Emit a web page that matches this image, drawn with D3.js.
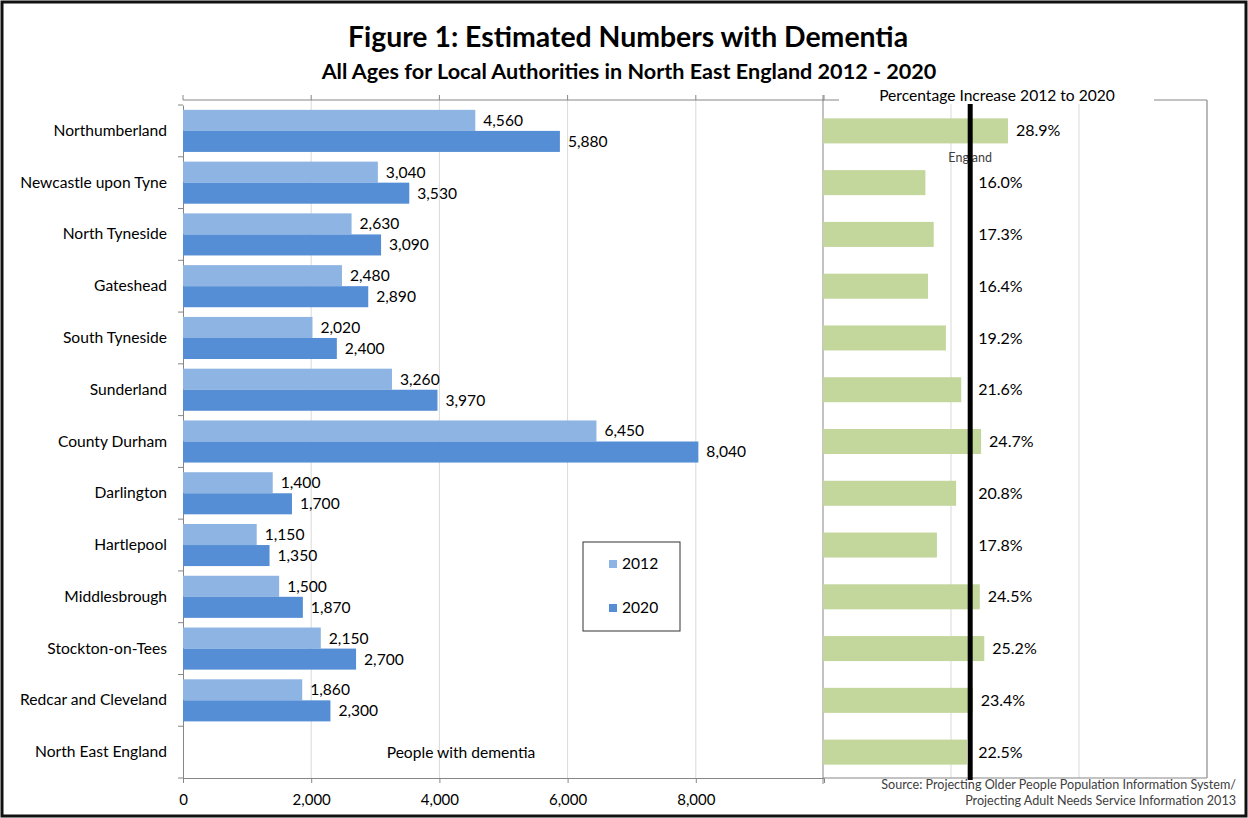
<!DOCTYPE html>
<html lang="en">
<head>
  <meta charset="UTF-8">
  <title>Estimated Numbers with Dementia</title>
  <script src="https://cdn.jsdelivr.net/npm/d3@7"></script>
  <style>
    html, body { margin: 0; padding: 0; background: #fff; }
    svg { display: block; font-family: Lato, "Open Sans", sans-serif; }
  </style>
</head>
<body>
  <svg id="chart" width="1248" height="818"></svg>
  <script>
    // data
    const areas = ['Northumberland', 'Newcastle upon Tyne', 'North Tyneside', 'Gateshead',
      'South Tyneside', 'Sunderland', 'County Durham', 'Darlington', 'Hartlepool',
      'Middlesbrough', 'Stockton-on-Tees', 'Redcar and Cleveland', 'North East England'];
    const years = ['2012', '2020'];
    const people2012 = [4560, 3040, 2630, 2480, 2020, 3260, 6450, 1400, 1150, 1500, 2150, 1860, null];
    const people2020 = [5880, 3530, 3090, 2890, 2400, 3970, 8040, 1700, 1350, 1870, 2700, 2300, null];
    const pctIncrease = [28.9, 16.0, 17.3, 16.4, 19.2, 21.6, 24.7, 20.8, 17.8, 24.5, 25.2, 23.4, 22.5];
    const englandPct = 23.0;
    const peopleTicks = [0, 2000, 4000, 6000, 8000];
    const pctGrid = [20, 40, 60];

    const colors = { '2012': '#8eb4e3', '2020': '#558ed5' };
    const green = '#c3d69b';
    const axisGrey = '#868686', gridGrey = '#d9d9d9';
    const fs = 15.6;

    const svg = d3.select('#chart');

    // outer frame
    svg.append('rect').attr('x', 2).attr('y', 2).attr('width', 1244).attr('height', 814)
      .attr('fill', '#fff').attr('stroke', '#111').attr('stroke-width', 3);

    svg.append('text').attr('x', 628).attr('y', 47).attr('text-anchor', 'middle')
      .attr('font-size', 28.4).attr('font-weight', 700).attr('fill', '#000')
      .text('Figure 1: Estimated Numbers with Dementia');
    svg.append('text').attr('x', 629).attr('y', 79).attr('text-anchor', 'middle')
      .attr('font-size', 21.6).attr('font-weight', 700).attr('fill', '#000')
      .text('All Ages for Local Authorities in North East England 2012 - 2020');

    const plotTop = 100, plotBottom = 778;
    const y = d3.scaleBand().domain(areas).range([105, 778]);
    const yInner = d3.scaleBand().domain(years).range([0, y.bandwidth()]).paddingOuter(0.23);
    const x = d3.scaleLinear().domain([0, 10000]).range([183, 824]);
    const xp = d3.scaleLinear().domain([0, 60]).range([823, 1207]);

    const rows = areas.map((a, i) => ({ area: a, v2012: people2012[i], v2020: people2020[i], pct: pctIncrease[i] }));

    // ---- left chart: numbers of people ----
    const left = svg.append('g');
    left.selectAll('line.grid').data(peopleTicks.slice(1)).join('line')
      .attr('x1', d => x(d)).attr('x2', d => x(d)).attr('y1', plotTop).attr('y2', plotBottom)
      .attr('stroke', gridGrey);

    // top axis line with ticks
    left.append('line').attr('x1', x(0)).attr('x2', x(10000)).attr('y1', plotTop).attr('y2', plotTop)
      .attr('stroke', axisGrey);
    left.selectAll('line.ttick').data(peopleTicks.concat([10000])).join('line')
      .attr('x1', d => x(d)).attr('x2', d => x(d)).attr('y1', plotTop - 5).attr('y2', plotTop)
      .attr('stroke', axisGrey);

    const xAxis = d3.axisBottom(x).tickValues(peopleTicks).tickSize(5).tickFormat(d3.format(','));
    const gx = left.append('g').attr('transform', `translate(0,${plotBottom})`).call(xAxis);
    gx.select('.domain').attr('stroke', axisGrey);
    gx.selectAll('.tick line').attr('stroke', axisGrey);
    gx.selectAll('.tick text').attr('font-size', 15).attr('fill', '#000').attr('dy', '1.25em')
      .attr('font-family', 'Lato, sans-serif');

    // category axis
    const yAxis = d3.axisLeft(y).tickSize(0).tickPadding(16);
    const gy = left.append('g').attr('transform', `translate(${x(0)},0)`).call(yAxis);
    gy.select('.domain').attr('stroke', axisGrey);
    gy.selectAll('.tick text').attr('font-size', fs).attr('fill', '#000')
      .attr('font-family', 'Lato, sans-serif');
    left.selectAll('line.btick').data(d3.range(areas.length + 1)).join('line')
      .attr('x1', x(0) - 5).attr('x2', x(0))
      .attr('y1', i => y.range()[0] + i * y.step()).attr('y2', i => y.range()[0] + i * y.step())
      .attr('stroke', axisGrey);

    const groups = left.selectAll('g.row').data(rows).join('g')
      .attr('transform', d => `translate(0,${y(d.area)})`);
    years.forEach(yr => {
      const key = 'v' + yr;
      const g = groups.filter(d => d[key] != null);
      g.append('rect').attr('x', x(0)).attr('y', yInner(yr))
        .attr('width', d => x(d[key]) - x(0)).attr('height', yInner.bandwidth())
        .attr('fill', colors[yr]);
      g.append('text').attr('x', d => x(d[key]) + 8).attr('y', yInner(yr) + yInner.bandwidth() / 2)
        .attr('dy', '0.35em').attr('font-size', fs).attr('fill', '#000')
        .text(d => d3.format(',')(d[key]));
    });

    left.append('text').attr('x', 461).attr('y', y('North East England') + y.bandwidth() / 2)
      .attr('dy', '0.35em').attr('text-anchor', 'middle').attr('font-size', fs)
      .text('People with dementia');

    // legend
    const lg = left.append('g').attr('transform', 'translate(583,542)');
    lg.append('rect').attr('width', 97).attr('height', 89).attr('fill', '#fff').attr('stroke', '#333');
    years.forEach((yr, i) => {
      lg.append('rect').attr('x', 26).attr('y', 18 + i * 44).attr('width', 8).attr('height', 8)
        .attr('fill', colors[yr]);
      lg.append('text').attr('x', 39).attr('y', 22 + i * 44).attr('dy', '0.35em')
        .attr('font-size', fs).text(yr);
    });

    // ---- right chart: percentage increase ----
    const right = svg.append('g');
    right.selectAll('line.grid').data(pctGrid).join('line')
      .attr('x1', d => xp(d)).attr('x2', d => xp(d)).attr('y1', plotTop).attr('y2', plotBottom)
      .attr('stroke', gridGrey);
    right.append('line').attr('x1', xp(0)).attr('x2', xp(60)).attr('y1', plotTop).attr('y2', plotTop)
      .attr('stroke', axisGrey);
    right.append('line').attr('x1', xp(60)).attr('x2', xp(60)).attr('y1', plotTop).attr('y2', plotBottom)
      .attr('stroke', axisGrey);
    right.append('line').attr('x1', xp(0)).attr('x2', xp(60)).attr('y1', plotBottom).attr('y2', plotBottom)
      .attr('stroke', axisGrey);
    right.append('line').attr('x1', xp(0)).attr('x2', xp(0)).attr('y1', plotTop - 5).attr('y2', plotBottom + 6)
      .attr('stroke', axisGrey);

    right.append('rect').attr('x', 839).attr('y', 84).attr('width', 315).attr('height', 20).attr('fill', '#fff');
    right.append('text').attr('x', 997).attr('y', 96).attr('dy', '0.35em').attr('text-anchor', 'middle')
      .attr('font-size', fs).text('Percentage Increase 2012 to 2020');

    const barH = 25;
    right.selectAll('rect.pct').data(rows).join('rect')
      .attr('x', xp(0)).attr('y', d => y(d.area) + y.bandwidth() / 2 - barH / 2)
      .attr('width', d => xp(d.pct) - xp(0)).attr('height', barH).attr('fill', green);

    right.append('text').attr('x', xp(englandPct)).attr('y', 158).attr('dy', '0.35em')
      .attr('text-anchor', 'middle').attr('font-size', 12.5).attr('fill', '#404040').text('England');
    right.append('line').attr('x1', xp(englandPct)).attr('x2', xp(englandPct))
      .attr('y1', 104).attr('y2', 780).attr('stroke', '#000').attr('stroke-width', 5);

    right.selectAll('text.pct').data(rows).join('text')
      .attr('x', d => Math.max(xp(d.pct), xp(englandPct)) + 8)
      .attr('y', d => y(d.area) + y.bandwidth() / 2).attr('dy', '0.35em')
      .attr('font-size', 16).text(d => d.pct.toFixed(1) + '%');

    const src = svg.append('text').attr('text-anchor', 'end').attr('font-size', 12.6).attr('fill', '#404040');
    src.append('tspan').attr('x', 1236).attr('y', 789).text('Source: Projecting Older People Population Information System/');
    src.append('tspan').attr('x', 1236).attr('y', 805).text('Projecting Adult Needs Service Information 2013');
  </script>
</body>
</html>
